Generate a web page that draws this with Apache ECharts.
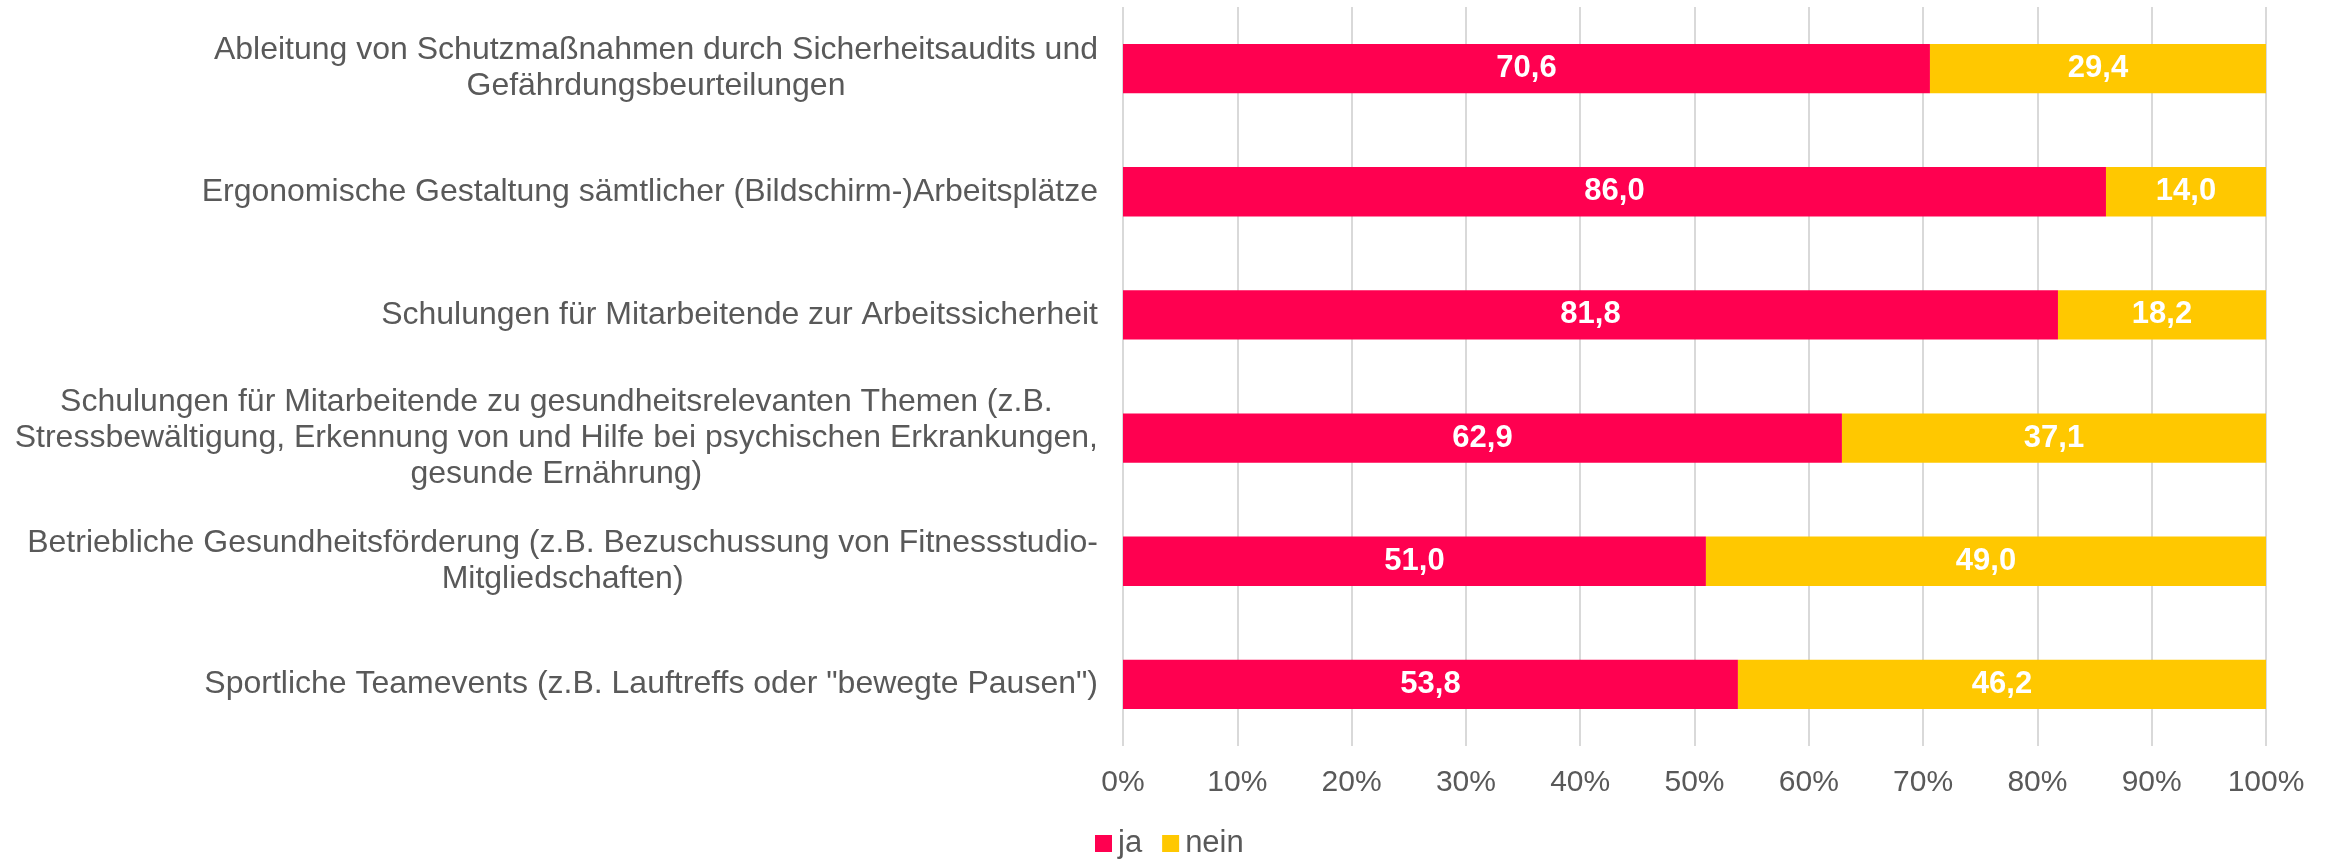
<!DOCTYPE html>
<html>
<head>
    <meta charset="utf-8">
    <title>Maßnahmen</title>
    <script src="https://cdn.jsdelivr.net/npm/echarts@6/dist/echarts.min.js"></script>
    <style>
        html, body { margin: 0; padding: 0; background: #fff; }
        #main { width: 2336px; height: 859px; }
    </style>
</head>
<body>
<div id="main"></div>
<script>
    // Kategorien von oben nach unten
    const categories = [
        'Ableitung von Schutzmaßnahmen durch Sicherheitsaudits und\nGefährdungsbeurteilungen',
        'Ergonomische Gestaltung sämtlicher (Bildschirm-)Arbeitsplätze',
        'Schulungen für Mitarbeitende zur Arbeitssicherheit',
        'Schulungen für Mitarbeitende zu gesundheitsrelevanten Themen (z.B.\nStressbewältigung, Erkennung von und Hilfe bei psychischen Erkrankungen,\ngesunde Ernährung)',
        'Betriebliche Gesundheitsförderung (z.B. Bezuschussung von Fitnessstudio-\nMitgliedschaften)',
        'Sportliche Teamevents (z.B. Lauftreffs oder "bewegte Pausen")'
    ];
    const seriesNames = ['ja', 'nein'];
    const jaValues = [70.6, 86.0, 81.8, 62.9, 51.0, 53.8];
    const neinValues = [29.4, 14.0, 18.2, 37.1, 49.0, 46.2];

    const textColor = '#595959';
    const font = '"Liberation Sans", Arial, sans-serif';

    function barLabel() {
        return {
            show: true,
            position: 'inside',
            color: '#fff',
            fontWeight: 'bold',
            fontSize: 31,
            fontFamily: font,
            formatter: function (p) {
                return p.value.toFixed(1).replace('.', ',');
            }
        };
    }

    const chart = echarts.init(document.getElementById('main'));
    chart.setOption({
        animation: false,
        textStyle: { fontFamily: font },
        grid: { left: 1123, right: 70, top: 7, bottom: 113, containLabel: false },
        legend: {
            data: seriesNames,
            left: 1095,
            top: 828,
            padding: 0,
            itemWidth: 17,
            itemHeight: 17,
            itemGap: 20,
            icon: 'rect',
            textStyle: { color: textColor, fontSize: 31, fontFamily: font, padding: [0, 0, 0, 1] }
        },
        xAxis: {
            type: 'value',
            min: 0,
            max: 100,
            interval: 10,
            axisLine: { show: false },
            axisTick: { show: false },
            splitLine: { show: true, lineStyle: { color: '#D9D9D9', width: 2 } },
            axisLabel: {
                color: textColor,
                fontSize: 30,
                fontFamily: font,
                margin: 22,
                formatter: '{value}%'
            }
        },
        yAxis: {
            type: 'category',
            inverse: true,
            data: categories,
            axisLine: { show: false },
            axisTick: { show: false },
            axisLabel: {
                color: textColor,
                fontSize: 32,
                fontFamily: font,
                margin: 25,
                align: 'right',
                lineHeight: 36,
                formatter: function (v) {
                    return v.split('\n').map(function (l) { return '{c|' + l + '}'; }).join('\n');
                },
                rich: {
                    c: { align: 'center', color: textColor, fontSize: 32, fontFamily: font, lineHeight: 36 }
                }
            }
        },
        series: [
            {
                name: seriesNames[0],
                type: 'bar',
                stack: 'total',
                barWidth: '40%',
                itemStyle: { color: '#FF0050' },
                label: barLabel(),
                data: jaValues
            },
            {
                name: seriesNames[1],
                type: 'bar',
                stack: 'total',
                barWidth: '40%',
                itemStyle: { color: '#FFC800' },
                label: barLabel(),
                data: neinValues
            }
        ]
    });
</script>
</body>
</html>
